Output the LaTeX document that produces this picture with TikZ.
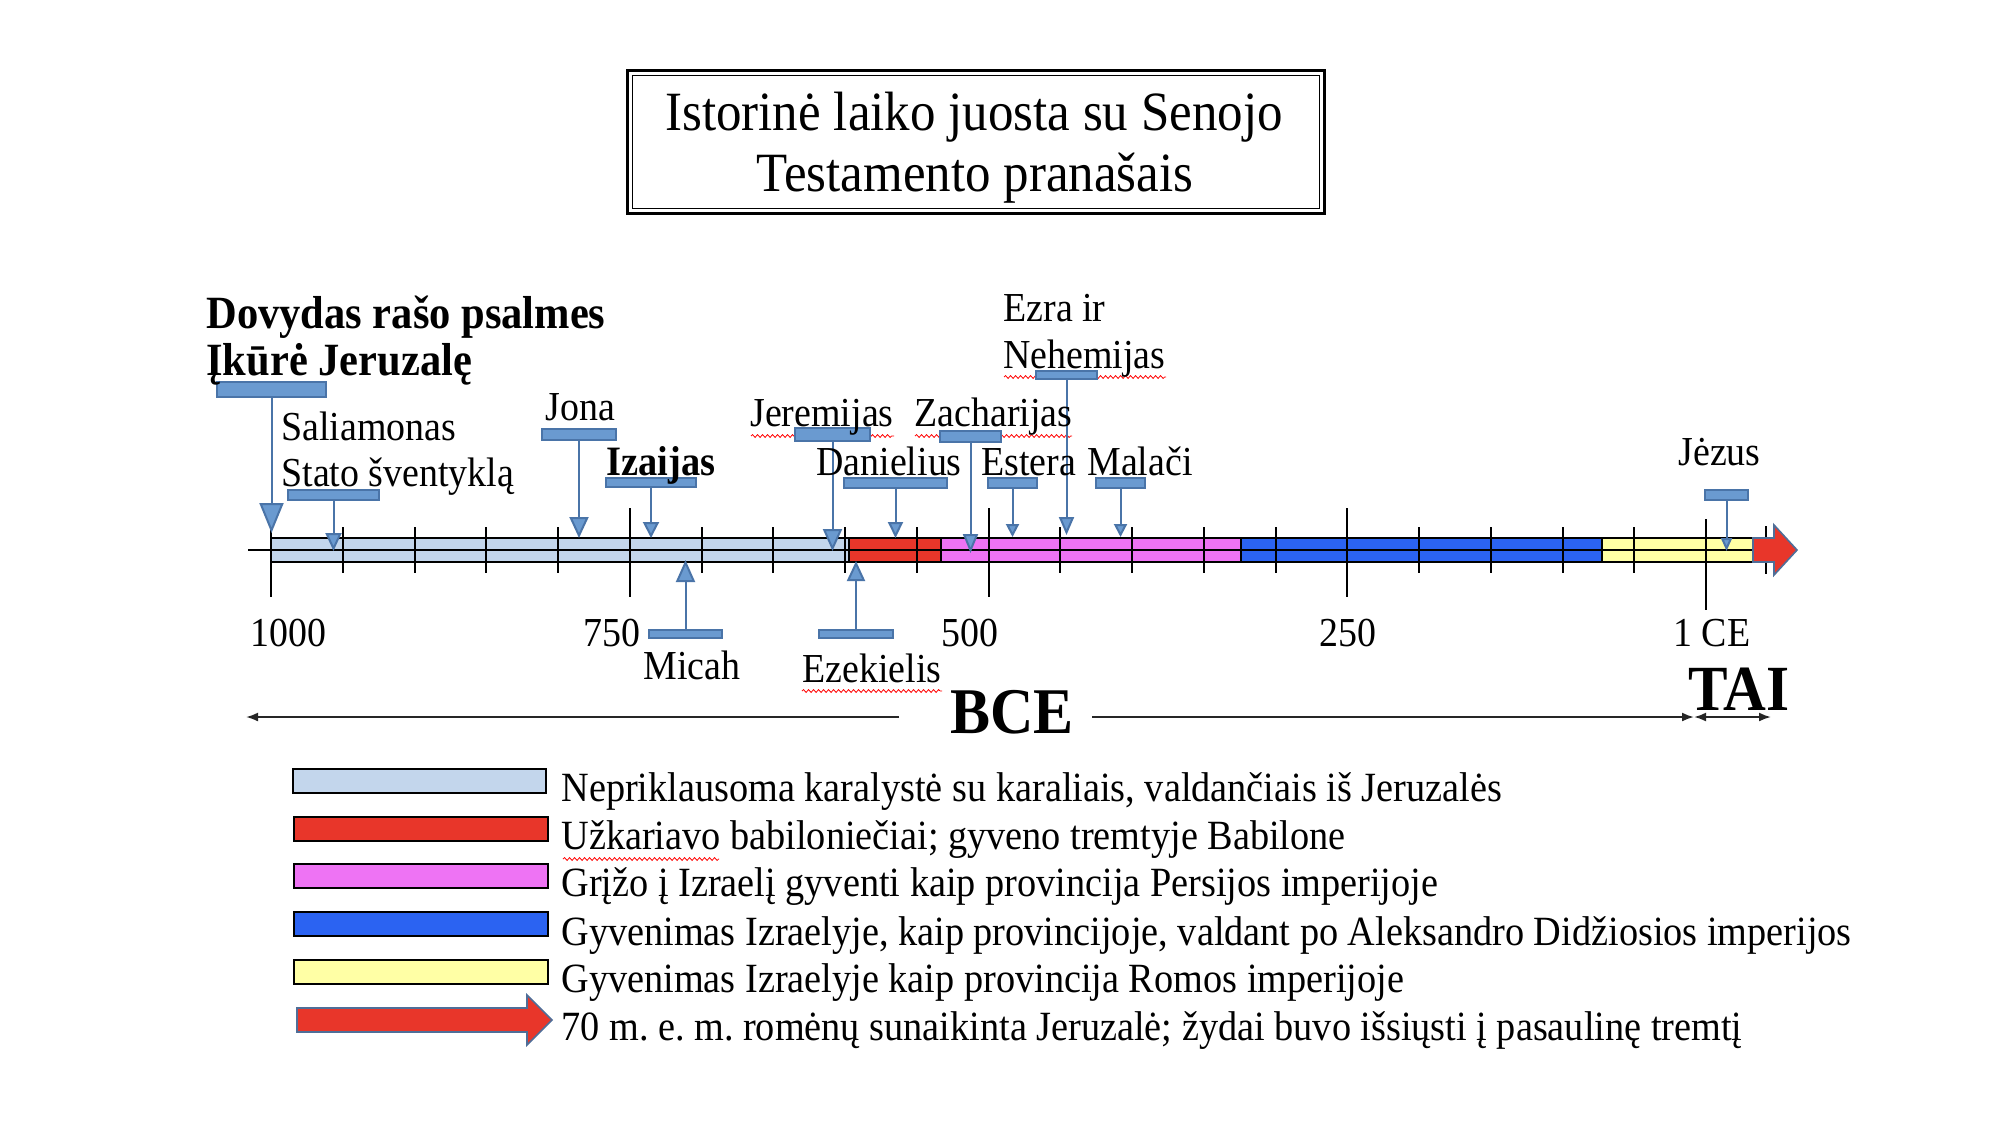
\documentclass[tikz,border=0pt]{standalone}
\usepackage{fontspec}
\setmainfont[FakeStretch=0.92]{Liberation Serif}
\usetikzlibrary{arrows.meta,fit,decorations.pathmorphing}
\definecolor{lblue}{HTML}{C3D6EC}
\definecolor{redc}{HTML}{E8362A}
\definecolor{magc}{HTML}{EE73F4}
\definecolor{bluec}{HTML}{2B63F2}
\definecolor{yelc}{HTML}{FFFFA5}
\definecolor{cfill}{HTML}{6A9AD0}
\definecolor{cedge}{HTML}{4A74A8}
\definecolor{aedge}{HTML}{4F6E98}
\tikzset{
  lbl/.style={inner sep=0pt, anchor=base west, font=\fontsize{20.6pt}{24pt}\selectfont},
  lgd/.style={inner sep=0pt, anchor=base west, font=\fontsize{20.8pt}{24pt}\selectfont},
  hdr/.style={inner sep=0pt, anchor=base west, font=\fontsize{23.1pt}{26pt}\selectfont\bfseries},
  ttl/.style={inner sep=0pt, anchor=base, font=\fontsize{27.7pt}{30pt}\selectfont},
  cbar/.style={draw=cedge, fill=cfill, line width=0.8pt, inner sep=0pt},
  cline/.style={draw=cedge, line width=1pt},
  seg/.style={draw=black, line width=0.8pt},
  tickmark/.style={draw=black, line width=1pt},
  wavy/.style={draw=red, line width=0.4pt, decorate, decoration={snake, amplitude=0.7pt, segment length=2.5pt}},
  era/.style={draw=black!85, line width=1pt},
}
\begin{document}
\frenchspacing
\begin{tikzpicture}[x=0.5pt, y=-0.5pt]
\useasboundingbox (0,0) rectangle (2016,1126);
\fill[white] (0,0) rectangle (2016,1126);

% ---------- title ----------
\node[ttl] (title1) at (974,130) {Istorinė laiko juosta su Senojo};
\node[ttl] (title2) at (975,191) {Testamento pranašais};
\draw[line width=1.5pt] (627,70) rectangle (1324,213);
\draw[line width=0.5pt] (632,75) rectangle (1319,208);

% ---------- timeline bar ----------
\draw[seg] (248,550) -- (271,550);
\draw[seg, fill=lblue] (271,538) rectangle (849,562);
\draw[seg, fill=redc] (849,538) rectangle (941,562);
\draw[seg, fill=magc] (941,538) rectangle (1241,562);
\draw[seg, fill=bluec] (1241,538) rectangle (1602,562);
\draw[seg, fill=yelc] (1602,538) rectangle (1753,562);
\draw[seg] (271,550) -- (1753,550);

% ticks
\foreach \i in {1,2,3,4,6,7,8,9,11,12,13,14,16,17,18,19}
  \draw[tickmark] ({271+71.75*\i},527) -- ++(0,46);
\foreach \i in {0,5,10,15}
  \draw[tickmark] ({271+71.75*\i},508) -- ++(0,89);
\draw[tickmark] (1706,519) -- (1706,610);
\draw[tickmark] (1766,526) -- (1766,574);

% red arrow at the end of the bar
\draw[fill=redc, draw=aedge, line width=0.8pt]
  (1753,538) -- (1774,538) -- (1774,525) -- (1797,550) -- (1774,575) -- (1774,562) -- (1753,562) -- cycle;

% ---------- spell-check underlines ----------
\draw[wavy] (1004,377) -- (1166,377);
\draw[wavy] (751,436) -- (894,436);
\draw[wavy] (915,436) -- (1072,436);
\draw[wavy] (802,691) -- (942,691);
\draw[wavy] (563,859) -- (719,859);

% ---------- callouts ----------
\node[cbar, fit={(217,382)(326,397)}] (b1) {};
\node[cbar, fit={(288,490)(379,500)}] (b2) {};
\node[cbar, fit={(542,429)(616,440)}] (b3) {};
\node[cbar, fit={(606,478)(696,487)}] (b4) {};
\node[cbar, fit={(649,630)(722,638)}] (b5) {};
\node[cbar, fit={(795,428)(870,441)}] (b6) {};
\node[cbar, fit={(819,630)(893,638)}] (b7) {};
\node[cbar, fit={(844,478)(947,488)}] (b8) {};
\node[cbar, fit={(940,431)(1001,442)}] (b9) {};
\node[cbar, fit={(988,478)(1037,488)}] (b10) {};
\node[cbar, fit={(1036,371)(1097,379)}] (b11) {};
\node[cbar, fit={(1096,478)(1145,488)}] (b12) {};
\node[cbar, fit={(1705,490)(1748,500)}] (b13) {};

\coordinate (t1) at (271.5,533);
\coordinate (t2) at (333.5,551);
\coordinate (t3) at (579,538);
\coordinate (t4) at (651,538);
\coordinate (t5) at (685.5,560);
\coordinate (t6) at (832.5,551);
\coordinate (t7) at (856,561);
\coordinate (t8) at (895.5,538);
\coordinate (t9) at (970.5,553);
\coordinate (t10) at (1012.5,537);
\coordinate (t11) at (1066.5,535);
\coordinate (t12) at (1120.5,537);
\coordinate (t13) at (1726.5,551);

\draw[cline, -{Triangle[width=12pt, length=15pt, fill=cfill]}] (b1.south) -- (t1);
\draw[cline, -{Triangle[width=8pt, length=9pt, fill=cfill]}] (b2.south) -- (t2);
\draw[cline, -{Triangle[width=9.5pt, length=10.5pt, fill=cfill]}] (b3.south) -- (t3);
\draw[cline, -{Triangle[width=8pt, length=8pt, fill=cfill]}] (b4.south) -- (t4);
\draw[cline, -{Triangle[width=9.5pt, length=11pt, fill=cfill]}] (b5.north) -- (t5);
\draw[cline, -{Triangle[width=9.5pt, length=11pt, fill=cfill]}] (b6.south) -- (t6);
\draw[cline, -{Triangle[width=9pt, length=10pt, fill=cfill]}] (b7.north) -- (t7);
\draw[cline, -{Triangle[width=7.5pt, length=8pt, fill=cfill]}] (b8.south) -- (t8);
\draw[cline, -{Triangle[width=7.5pt, length=9.5pt, fill=cfill]}] (b9.south) -- (t9);
\draw[cline, -{Triangle[width=6.5pt, length=6.5pt, fill=cfill]}] (b10.south) -- (t10);
\draw[cline, -{Triangle[width=7.5pt, length=9pt, fill=cfill]}] (b11.south) -- (t11);
\draw[cline, -{Triangle[width=6.5pt, length=6.5pt, fill=cfill]}] (b12.south) -- (t12);
\draw[cline, -{Triangle[width=5.5pt, length=6.5pt, fill=cfill]}] (b13.south) -- (t13);

% ---------- labels ----------
\node[hdr] (dov) at (206,328) {Dovydas rašo psalmes};
\node[hdr] (ikure) at (206,375) {Įkūrė Jeruzalę};
\node[lbl] (sal) at (281,440) {Saliamonas};
\node[lbl] (stato) at (281,486) {Stato šventyklą};
\node[lbl] (jona) at (545,420) {Jona};
\node[lbl, font=\fontsize{20.9pt}{24pt}\selectfont\bfseries] (iza) at (606,475) {Izaijas};
\node[lbl] (jer) at (750,426) {Jeremijas};
\node[lbl] (zach) at (914,426) {Zacharijas};
\node[lbl] (dan) at (816,475) {Danielius};
\node[lbl] (est) at (981,475) {Estera};
\node[lbl] (mal) at (1087,475) {Malači};
\node[lbl] (ezra) at (1003,321) {Ezra ir};
\node[lbl] (neh) at (1003,368) {Nehemijas};
\node[lbl] (jez) at (1678,465) {Jėzus};
\node[lbl] (micah) at (643,679) {Micah};
\node[lbl] (ezek) at (802,682) {Ezekielis};

\node[lbl] (y1000) at (250,646) {1000};
\node[lbl] (y750) at (583,646) {750};
\node[lbl] (y500) at (941,646) {500};
\node[lbl] (y250) at (1319,646) {250};
\node[lbl] (y0) at (1673,646) {1 CE};

% ---------- era arrows ----------
\node[inner sep=0pt, anchor=base west, font=\fontsize{32.6pt}{36pt}\selectfont\bfseries] (bce) at (950,733) {BCE};
\node[inner sep=0pt, anchor=base west, font=\fontsize{32.2pt}{36pt}\selectfont\bfseries] (tai) at (1688,710) {TAI};
\coordinate (bceL) at (246,717);
\coordinate (bceR) at (1694,717);
\coordinate (taiR) at (1771,717);
\coordinate (bceLs) at (899,717);
\coordinate (bceRs) at (1092,717);
\draw[era, -{Latex[length=6pt, width=4.5pt]}] (bceLs) -- (bceL);
\draw[era, -{Latex[length=6pt, width=4.5pt]}] (bceRs) -- (bceR);
\draw[era, {Latex[length=6pt, width=4.5pt]}-{Latex[length=6pt, width=4.5pt]}] (bceR) -- (taiR);

% ---------- legend ----------
\draw[seg, fill=lblue] (293,769) rectangle (546,793);
\draw[seg, fill=redc] (294,817) rectangle (548,841);
\draw[seg, fill=magc] (294,864) rectangle (548,888);
\draw[seg, fill=bluec] (294,912) rectangle (548,936);
\draw[seg, fill=yelc] (294,960) rectangle (548,984);
\draw[fill=redc, draw=aedge, line width=0.8pt]
  (297,1008) -- (527,1008) -- (527,995) -- (552,1020) -- (527,1045) -- (527,1032) -- (297,1032) -- cycle;

\node[lgd] (l1) at (561,801) {Nepriklausoma karalystė su karaliais, valdančiais iš Jeruzalės};
\node[lgd] (l2) at (561,849) {Užkariavo babiloniečiai; gyveno tremtyje Babilone};
\node[lgd] (l3) at (561,896) {Grįžo į Izraelį gyventi kaip provincija Persijos imperijoje};
\node[lgd] (l4) at (561,945) {Gyvenimas Izraelyje, kaip provincijoje, valdant po Aleksandro Didžiosios imperijos};
\node[lgd] (l5) at (561,992) {Gyvenimas Izraelyje kaip provincija Romos imperijoje};
\node[lgd] (l6) at (561,1040) {70 m. e. m. romėnų sunaikinta Jeruzalė; žydai buvo išsiųsti į pasaulinę tremtį};
\end{tikzpicture}
\end{document}
